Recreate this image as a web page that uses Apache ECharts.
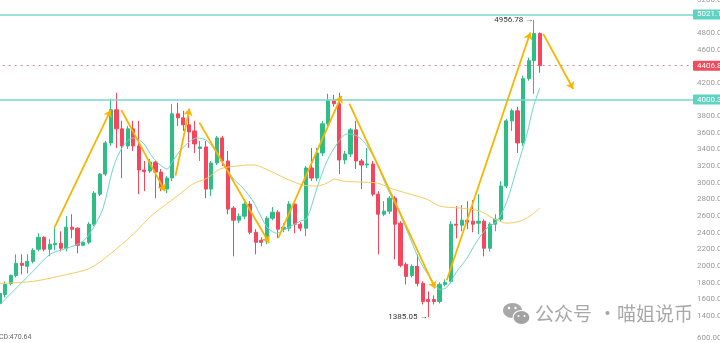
<!DOCTYPE html>
<html><head><meta charset="utf-8">
<script src="https://cdn.jsdelivr.net/npm/echarts@6/dist/echarts.min.js"></script>
<style>html,body{margin:0;padding:0;background:#fff}#c{width:720px;height:343px}</style>
</head><body><div id="c"></div>
<script>
// ---- data ----
const slotCount = 125;
const categories = Array.from({length: slotCount}, (_, i) => 'D' + (i + 1));
// [open, close, low, high]
const candles = [
[1551,1671,1515,1695],[1659,1780,1623,1816],[1792,1888,1768,1900],[1888,2033,1864,2141],
[2033,2009,1900,2141],[1997,2057,1912,2141],[2057,2190,2033,2214],[2202,2346,2177,2394],
[2346,2202,2177,2358],[2202,2262,2117,2322],[2256,2274,2190,2455],[2274,2214,2177,2418],
[2214,2467,2177,2599],[2467,2443,2334,2623],[2455,2250,2153,2467],[2250,2286,2238,2298],
[2286,2503,2262,2527],[2503,2876,2479,2900],[2864,3105,2840,3117],[3105,3479,3081,3503],
[3479,3877,3443,4009],[3877,3648,3419,4081],[3648,3443,3057,3744],[3443,3648,3407,3684],
[3648,3443,3382,3744],[3443,3154,2864,3744],[3154,3135,2900,3262],[3141,3250,3117,3286],
[3250,3129,2816,3262],[3129,2937,2900,3166],[2925,3057,2876,3081],[3057,3828,3021,3949],
[3828,3780,3684,3961],[3780,3696,3623,3864],[3696,3611,3419,3804],[3623,3467,3358,3744],
[3413,3431,3262,3503],[3431,2925,2816,3503],[2925,3238,2840,3262],[3238,3539,3214,3563],
[3539,3262,3202,3563],[3262,2684,2623,3382],[2696,2551,2117,2720],[2551,2599,2515,2635],
[2599,2744,2563,2780],[2744,2406,2382,2780],[2406,2286,2141,2443],[2310,2286,2238,2346],
[2298,2575,2262,2599],[2575,2647,2551,2708],[2647,2443,2334,2672],[2443,2467,2406,2515],
[2455,2744,2418,2780],[2744,2503,2394,2780],[2503,2455,2418,2527],[2455,3178,2358,3202],
[3178,3057,3021,3419],[3057,3358,3021,3419],[3358,3708,3322,3744],[3708,3985,3672,4069],
[3985,3949,3913,4057],[3949,3274,3105,4081],[3274,3346,3226,3382],[3346,3636,3310,3660],
[3636,3262,3166,3744],[3262,3214,2925,3286],[3214,3226,3178,3419],[3226,2864,2840,3262],
[2864,2623,2141,2900],[2623,2659,2599,2780],[2659,2816,2623,2840],[2816,2503,2081,2840],
[2515,2009,1985,2539],[2021,1876,1780,2045],[1888,1997,1864,2021],[1997,1792,1756,2141],
[1792,1575,1539,1816],[1599,1575,1385.05,1695],[1599,1575,1539,1647],[1575,1780,1551,1804],
[1780,1804,1756,1840],[1816,2503,1792,2539],[2503,2491,2334,2720],[2491,2551,2418,2732],
[2551,2527,2443,2780],[2539,2503,2406,2792],[2515,2539,2382,2864],[2539,2214,2117,2563],
[2214,2503,2177,2527],[2503,2563,2418,2623],[2563,2961,2539,3021],[2961,3744,2937,3768],
[3744,3864,3623,3889],[3864,3479,3358,3913],[3479,4250,3443,4286],[4250,4467,4226,4503],
[4467,4792,4069,4956.78],[4792,4406.8,4322,4804]
];
// moving averages: [slot position, value]
const maFast = [[0.09,1539],[3.68,1780],[6.0,1936],[9.07,2141],[12.1,2214],[15.0,2298],[16.8,2455],[18.6,2696],[20.4,3178],[22.2,3443],[24.0,3539],[25.8,3479],[27.6,3298],[30.1,3166],[31.1,3262],[32.9,3419],[35.5,3539],[37.3,3503],[39.0,3358],[41.9,3057],[43.7,2937],[45.5,2780],[47.1,2575],[48.2,2455],[49.8,2394],[51.6,2455],[54.0,2539],[55.2,2575],[57.0,2937],[58.8,3262],[60.6,3467],[62.4,3587],[64.2,3563],[66.0,3443],[67.8,3226],[69.6,2937],[71.4,2696],[73.2,2419],[75.5,2057],[77.8,1816],[79.1,1720],[80.3,1744],[82.1,1936],[83.9,2093],[85.7,2298],[87.5,2455],[89.3,2539],[91.1,2780],[92.9,3178],[94.7,3587],[95.8,3901],[97.0,4142]];
const maSlow = [[0.09,1792],[6.0,1816],[12.1,1900],[16.2,1973],[19.8,2141],[24.0,2382],[27.6,2623],[31.9,2840],[34.7,2985],[37.3,3057],[39.6,3166],[42.6,3202],[45.5,3214],[48.6,3141],[51.6,3045],[54.5,2973],[57.0,2961],[58.8,2997],[60.2,3045],[61.7,3021],[64.7,3009],[67.8,2997],[70.6,2925],[73.7,2864],[76.7,2804],[79.1,2720],[82.7,2696],[86.3,2659],[88.6,2575],[91.1,2515],[93.4,2539],[95.2,2599],[97.0,2696]];
// trend arrows: [start, end] as [slot position, value]
const trendLines = [
 [[9.84,2458],[19.96,3873]],
 [[21.9,3873],[29.7,2900]],
 [[31.6,3085],[34.1,3891]],
 [[35.9,3723],[48.4,2278]],
 [[50.05,2338],[61.4,4045]],
 [[62.8,3952],[78.2,1732]],
 [[80.3,1830],[95.3,4804]],
 [[97.6,4789],[103.0,4126]]
];
const levelValues = [5021.1, 4406.8, 4000.3];
const levelLabels = ['5021.10', '4406.80', '4000.30'];
const extremes = [{idx: 96, value: 4956.78}, {idx: 77, value: 1385.05}];
const yTicksHidden = [5000, 4400, 4000];

// ---- chart ----
const UP = '#2ebd85', DOWN = '#f6465d', TEAL = '#6fd6c9', LEVEL = '#78d9cc';
const chart = echarts.init(document.getElementById('c'));
const levelStyles = [
  {line: {color: LEVEL, width: 1.5, type: 'solid'}, bg: '#5fd3c2'},
  {line: {color: '#d08a8a', width: 1, type: [2, 4]}, bg: '#f04c5c'},
  {line: {color: LEVEL, width: 1.5, type: 'solid'}, bg: '#5fd3c2'}
];
chart.setOption({
  animation: false,
  backgroundColor: '#fff',
  grid: {left: -3.3, right: 27, top: -0.4, bottom: 10.3, containLabel: false, outerBoundsMode: 'none'},
  xAxis: [
    {type: 'category', data: categories, boundaryGap: true, show: false},
    {type: 'value', min: -0.5, max: slotCount - 0.5, show: false}
  ],
  yAxis: {
    type: 'value', position: 'right', min: 1200, max: 5200, interval: 200,
    splitLine: {show: false}, axisLine: {show: false}, axisTick: {show: false},
    axisLabel: {margin: 4, color: '#9a9a9a', fontSize: 8, fontFamily: 'Roboto',
      formatter: v => (v < 1400 || yTicksHidden.includes(v)) ? '' : v.toFixed(2)}
  },
  series: [
    {
      type: 'candlestick', data: candles, barWidth: '66%', z: 3,
      itemStyle: {color: UP, color0: DOWN, borderColor: UP, borderColor0: DOWN, borderWidth: 1},
      markLine: {
        silent: true, symbol: ['none', 'none'], z: 10,
        data: levelValues.map((v, i) => ({
          yAxis: v, lineStyle: levelStyles[i].line,
          label: {show: true, position: 'end', distance: 0, formatter: levelLabels[i],
            color: '#fff', backgroundColor: levelStyles[i].bg, padding: [1, 4, 1, 4],
            borderRadius: 1, fontSize: 8, fontFamily: 'Roboto'}
        }))
      },
      markPoint: {
        silent: true, symbol: 'circle', symbolSize: 0,
        data: extremes.map(e => ({coord: [e.idx, e.value], value: e.value})),
        label: {show: true, position: 'left', distance: 1, color: '#333', fontSize: 8,
          fontFamily: 'Roboto', formatter: p => p.value.toFixed(2) + ' \u2192'}
      }
    },
    {type: 'line', xAxisIndex: 1, data: maFast, smooth: 0.3, showSymbol: false, z: 4,
      lineStyle: {color: TEAL, width: 1}},
    {type: 'line', xAxisIndex: 1, data: maSlow, smooth: 0.3, showSymbol: false, z: 4,
      lineStyle: {color: '#f3cb62', width: 1},
      markLine: {
        silent: true, symbol: ['none', 'arrow'], symbolSize: 7, z: 12,
        lineStyle: {color: '#f7b500', width: 1.8, type: 'solid'},
        label: {show: false},
        data: trendLines.map(t => [{coord: t[0]}, {coord: t[1]}])
      }}
  ],
  graphic: [
    {type: 'ellipse', shape: {cx: 512.5, cy: 310.5, rx: 9.5, ry: 7.5}, style: {fill: '#a8a8a8'}, z: 100},
    {type: 'ellipse', shape: {cx: 521.5, cy: 317.5, rx: 8.5, ry: 7}, style: {fill: '#a2a2a2', stroke: '#fff', lineWidth: 1.2}, z: 101},
    {type: 'circle', shape: {cx: 509, cy: 308, r: 1.2}, style: {fill: '#fff'}, z: 102},
    {type: 'circle', shape: {cx: 515.5, cy: 308, r: 1.2}, style: {fill: '#fff'}, z: 102},
    {type: 'circle', shape: {cx: 518.5, cy: 316, r: 1}, style: {fill: '#fff'}, z: 102},
    {type: 'circle', shape: {cx: 524.5, cy: 316, r: 1}, style: {fill: '#fff'}, z: 102},
    {type: 'text', left: 535, top: 304, z: 100, style: {text: '公众号', fill: '#a8a8a8', font: '19px "Noto Sans CJK SC"'}},
    {type: 'text', left: 598, top: 304, z: 100, style: {text: '·', fill: '#a8a8a8', font: '19px "Noto Sans CJK SC"'}},
    {type: 'text', left: 617, top: 304, z: 100, style: {text: '喵姐说币', fill: '#a8a8a8', font: '19px "Noto Sans CJK SC"'}},
    {type: 'text', left: -1, top: 334, z: 100, style: {text: 'CD:470.64', fill: '#666', font: '7px Roboto'}},
    {type: 'text', left: 697, top: 334, z: 100, style: {text: '600.00', fill: '#9a9a9a', font: '8px Roboto'}}
  ]
});
</script></body></html>
